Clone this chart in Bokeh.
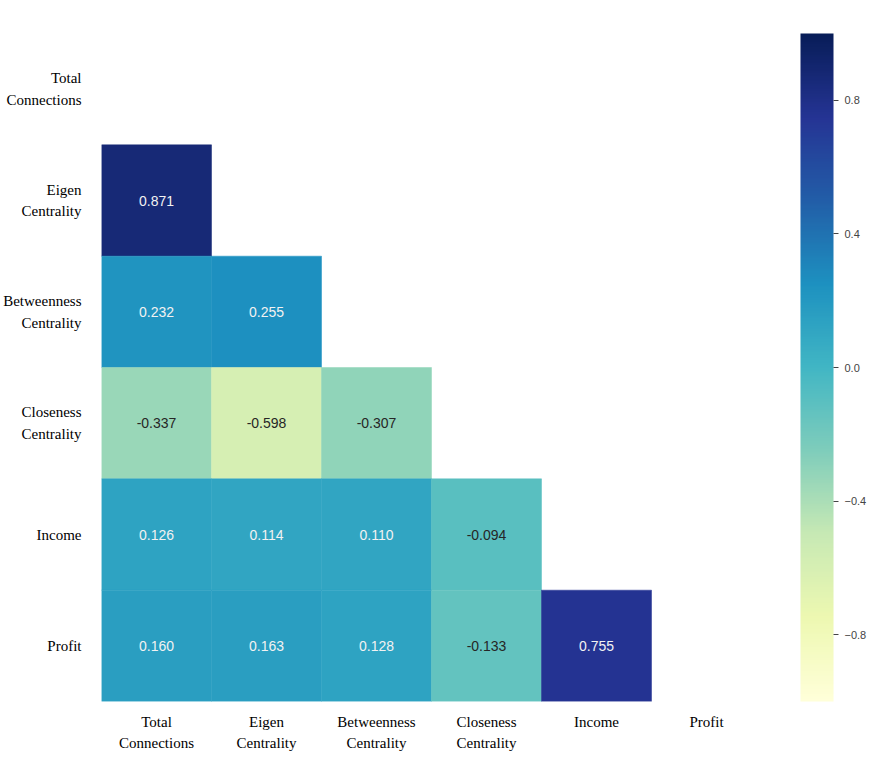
import numpy as np
from bokeh.plotting import figure
from bokeh.models import (ColumnDataSource, LinearColorMapper, ColorBar, FixedTicker,
                          CustomJSTickFormatter, FactorRange)
from bokeh.core.properties import value
from bokeh.embed import file_html
from bokeh.resources import INLINE

# ---- data ----
variables = ["Total\nConnections", "Eigen\nCentrality", "Betweenness\nCentrality",
             "Closeness\nCentrality", "Income", "Profit"]
row_total = []
row_eigen = [0.871]
row_betweenness = [0.232, 0.255]
row_closeness = [-0.337, -0.598, -0.307]
row_income = [0.126, 0.114, 0.110, -0.094]
row_profit = [0.160, 0.163, 0.128, -0.133, 0.755]
rows = [row_total, row_eigen, row_betweenness, row_closeness, row_income, row_profit]
cbar_ticks = [-0.8, -0.4, 0.0, 0.4, 0.8]

# YlGnBu anchor colours (ColorBrewer), expanded to a 256-step palette
anchors = ["#ffffd9", "#edf8b1", "#c7e9b4", "#7fcdbb", "#41b6c4",
           "#1d91c0", "#225ea8", "#253494", "#081d58"]
arr = np.array([[int(c[i:i + 2], 16) for i in (1, 3, 5)] for c in anchors], dtype=float)
pos = np.linspace(0, 1, len(anchors))
t = np.linspace(0, 1, 256)
rgb = np.stack([np.interp(t, pos, arr[:, k]) for k in range(3)], axis=1)
palette = ["#%02x%02x%02x" % tuple(int(round(v)) for v in c) for c in rgb]


def lum(hexc):
    c = np.array([int(hexc[i:i + 2], 16) for i in (1, 3, 5)]) / 255.0
    c = np.where(c <= 0.03928, c / 12.92, ((c + 0.055) / 1.055) ** 2.4)
    return 0.2126 * c[0] + 0.7152 * c[1] + 0.0722 * c[2]


xs, ys, vs, txt, tcol = [], [], [], [], []
for r, vals in enumerate(rows):
    for c, v in enumerate(vals):
        xs.append(variables[c])
        ys.append(variables[r])
        vs.append(v)
        txt.append("%.3f" % v)
        idx = int(round((v + 1) / 2 * 255))
        tcol.append("#262626" if lum(palette[idx]) > 0.408 else "#f2f2f2")

src = ColumnDataSource(dict(x=xs, y=ys, v=vs, t=txt, tc=tcol))
mapper = LinearColorMapper(palette=palette, low=-1, high=1)

p = figure(x_range=FactorRange(factors=variables),
           y_range=FactorRange(factors=list(reversed(variables))),
           frame_width=660, frame_height=668,
           min_border_left=100, min_border_top=33, min_border_bottom=55, min_border_right=117,
           output_backend="svg", toolbar_location=None)

p.rect(x="x", y="y", width=1, height=1, source=src,
       fill_color={"field": "v", "transform": mapper},
       line_color={"field": "v", "transform": mapper}, line_width=0.5)
p.text(x="x", y="y", text="t", source=src, text_color="tc",
       text_align="center", text_baseline="middle",
       text_font=value("Liberation Sans"), text_font_size="14px")

p.outline_line_color = None
p.grid.grid_line_color = None
for ax in (p.xaxis, p.yaxis):
    ax.axis_line_color = None
    ax.major_tick_line_color = None
    ax.minor_tick_line_color = None
    ax.major_label_text_font = "Liberation Serif"
    ax.major_label_text_font_size = "15px"
    ax.major_label_text_color = "#000000"
    ax.major_label_text_line_height = 1.35
p.xaxis.major_label_standoff = 6
p.yaxis.major_label_standoff = 14

cb = ColorBar(color_mapper=mapper, width=33, height=668,
              ticker=FixedTicker(ticks=cbar_ticks),
              formatter=CustomJSTickFormatter(code="return tick.toFixed(1).replace('-', '\\u2212')"),
              major_label_text_font="Liberation Sans", major_label_text_font_size="11px",
              major_label_text_color="#444444", major_tick_line_color="#444444",
              major_tick_out=5, major_tick_in=0, label_standoff=6,
              bar_line_color=None, border_line_color=None,
              padding=0, margin=0, location=(39, 0))
p.add_layout(cb, "right")

open("out.html", "w").write(file_html(p, INLINE))
